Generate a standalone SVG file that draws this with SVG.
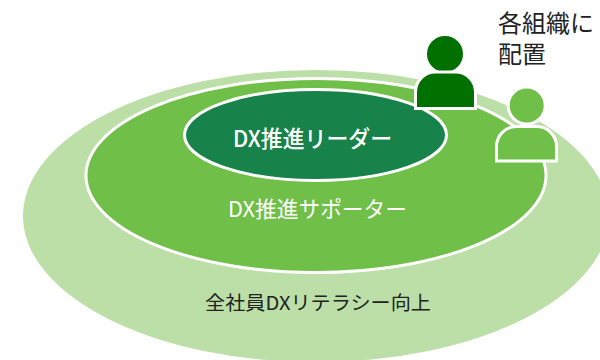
<svg xmlns="http://www.w3.org/2000/svg" width="600" height="360" viewBox="0 0 600 360">
<style>
text{font-family:"Noto Sans CJK JP","Noto Sans",sans-serif}
.w{stroke:#fff;stroke-width:3}
</style>
<rect width="600" height="360" fill="#fff"/>
<g id="literacy"><ellipse cx="316" cy="216" rx="293" ry="146" fill="#bbdfa7"/>
<text x="318" y="310" font-size="19" text-anchor="middle" fill="#222" textLength="226" lengthAdjust="spacingAndGlyphs">全社員DXリテラシー向上</text></g>
<g id="supporter"><ellipse cx="316" cy="175.500" rx="230" ry="97" fill="#70bf49" class="w"/>
<text x="317.500" y="217" font-size="22" text-anchor="middle" fill="#fff" textLength="179" lengthAdjust="spacingAndGlyphs">DX推進サポーター</text></g>
<g id="leader"><ellipse cx="315.500" cy="135" rx="131" ry="45.500" fill="#17834a" class="w"/>
<text x="312.500" y="147" font-size="23" font-weight="500" text-anchor="middle" fill="#fff" textLength="159" lengthAdjust="spacingAndGlyphs">DX推進リーダー</text></g>
<g id="person-dark"><circle cx="445" cy="54" r="18" fill="#007000"/>
<path d="M415.500 108.500V92A20 20 0 0 1 435.500 72H455.500A20 20 0 0 1 475.500 92V108.500Z" fill="#007000" class="w"/></g>
<g id="person-light"><circle cx="526.700" cy="105.500" r="18.500" fill="#70bf49" class="w"/>
<path d="M496.500 161V146.500A20 20 0 0 1 516.500 126.500H536.500A20 20 0 0 1 556.500 146.500V161Z" fill="#70bf49" class="w"/></g>
<g id="caption"><text x="498" y="32" font-size="24" fill="#222">各組織に</text>
<text x="498" y="63" font-size="24" fill="#222">配置</text></g>
<g id="connectors"/>
</svg>
